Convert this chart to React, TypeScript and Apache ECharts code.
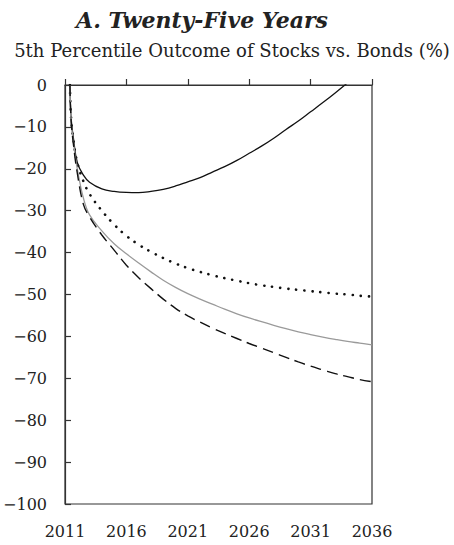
import React, { useEffect, useRef } from "react";
import * as echarts from "echarts";

const BASE_YEAR = 2011;
const years = [2011.4, 2011.5, 2011.7, 2012, 2012.5, 2013, 2014, 2015, 2016, 2017, 2018, 2019, 2020, 2021, 2022, 2023, 2024, 2025, 2026, 2027, 2028, 2029, 2030, 2031, 2032, 2033, 2034, 2035, 2036];
const solidSeries = [0, -8, -13, -18.5, -21.5, -23.2, -24.8, -25.4, -25.65, -25.7, -25.4, -24.9, -24.1, -23.1, -22.1, -20.8, -19.5, -18.0, -16.3, -14.6, -12.7, -10.6, -8.6, -6.4, -4.2, -1.9, 0.5, null, null];
const dottedSeries = [0, -8, -13.5, -18.5, -23, -26, -30.0, -33.3, -36.0, -38.1, -39.8, -41.3, -42.6, -43.7, -44.6, -45.4, -46.1, -46.7, -47.3, -47.8, -48.2, -48.6, -48.9, -49.2, -49.5, -49.8, -50.0, -50.3, -50.5];
const graySeries = [0, -8.5, -14, -20, -27, -31, -34.8, -37.9, -40.3, -42.5, -44.6, -46.6, -48.3, -49.8, -51.1, -52.3, -53.5, -54.6, -55.6, -56.5, -57.35, -58.15, -58.9, -59.55, -60.15, -60.7, -61.2, -61.6, -62.0];
const dashedSeries = [0, -8.5, -14.5, -21, -28.5, -31.5, -35.8, -39.4, -43.0, -46.0, -48.6, -51.1, -53.3, -55.1, -56.6, -58.0, -59.3, -60.5, -61.7, -62.8, -63.9, -65.0, -66.1, -67.1, -68.0, -68.9, -69.6, -70.3, -70.8];

const titleText = "A. Twenty-Five Years";
const subtitleText = "5th Percentile Outcome of Stocks vs. Bonds (%)";

const FONT = "DejaVu Serif";

function toPairs(vals: (number | null)[]) {
  return years.map((y, i) => [y - BASE_YEAR, vals[i]]);
}

export default function App() {
  const ref = useRef<HTMLDivElement>(null);
  useEffect(() => {
    if (!ref.current) return;
    const chart = echarts.init(ref.current, null, { renderer: "svg" });
    const axisColor = "#333";
    chart.setOption({
      animation: false,
      backgroundColor: "#fff",
      graphic: [
        {
          type: "text",
          x: 202,
          y: 20,
          style: {
            text: titleText,
            font: `italic bold 22px "${FONT}"`,
            fill: "#222",
            align: "center",
            verticalAlign: "middle",
          },
        },
        {
          type: "text",
          x: 232,
          y: 50,
          style: {
            text: subtitleText,
            font: `18px "${FONT}"`,
            fill: "#222",
            align: "center",
            verticalAlign: "middle",
          },
        },
      ],
      grid: {
        left: 65,
        right: 82,
        top: 85,
        bottom: 41,
        show: true,
        borderColor: axisColor,
        borderWidth: 1.2,
      },
      xAxis: {
        type: "value",
        min: 0,
        max: 25,
        interval: 5,
        axisLine: { show: true, lineStyle: { color: axisColor, width: 1.2 } },
        axisTick: { show: true, inside: true, length: 6, lineStyle: { color: axisColor, width: 1.2 } },
        splitLine: { show: false },
        axisLabel: {
          margin: 19,
          color: "#222",
          fontFamily: FONT,
          fontSize: 16,
          formatter: (v: number) => String(v + BASE_YEAR),
        },
      },
      yAxis: {
        type: "value",
        min: -100,
        max: 0,
        interval: 10,
        axisLine: { show: true, lineStyle: { color: axisColor, width: 1.2 } },
        axisTick: { show: true, inside: true, length: 6, lineStyle: { color: axisColor, width: 1.2 } },
        splitLine: { show: false },
        axisLabel: {
          margin: 18,
          color: "#222",
          fontFamily: FONT,
          fontSize: 16,
          formatter: (v: number) => (v < 0 ? "\u2212" + Math.abs(v) : String(v)),
        },
      },
      series: [
        {
          type: "line",
          name: "Solid",
          data: toPairs(solidSeries),
          smooth: 0.4,
          showSymbol: false,
          clip: true,
          lineStyle: { color: "#111", width: 1.3 },
        },
        {
          type: "line",
          name: "Dotted",
          data: toPairs(dottedSeries),
          smooth: 0.4,
          showSymbol: false,
          clip: true,
          lineStyle: { color: "#111", width: 2.6, type: [0.1, 8], cap: "round" },
        },
        {
          type: "line",
          name: "Gray",
          data: toPairs(graySeries),
          smooth: 0.4,
          showSymbol: false,
          clip: true,
          lineStyle: { color: "#9a9a9a", width: 1.3 },
        },
        {
          type: "line",
          name: "Dashed",
          data: toPairs(dashedSeries),
          smooth: 0.4,
          showSymbol: false,
          clip: true,
          lineStyle: { color: "#111", width: 1.4, type: [11, 6] },
        },
      ],
    });
    return () => chart.dispose();
  }, []);
  return (
    <div
      ref={ref}
      style={{ position: "fixed", left: 0, top: 0, width: 454, height: 545, background: "#fff" }}
    />
  );
}
